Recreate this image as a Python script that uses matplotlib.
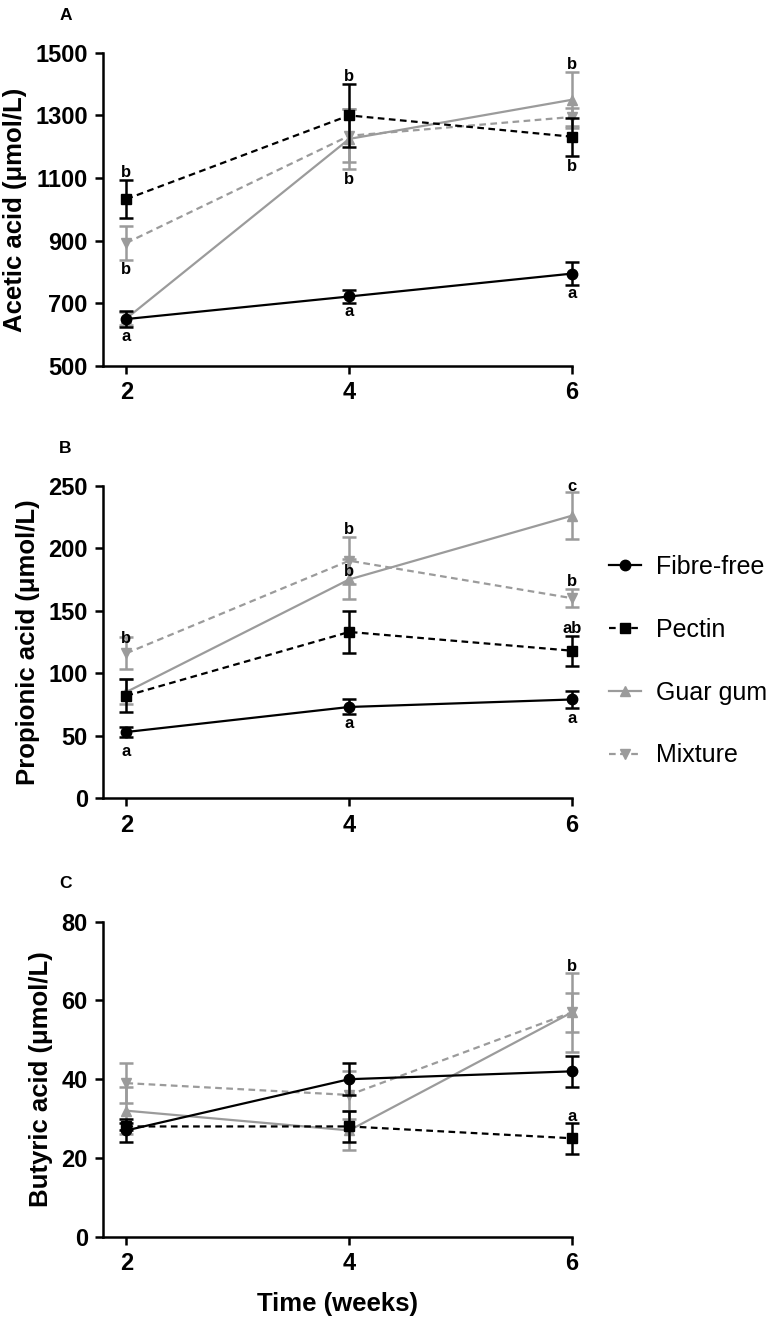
import numpy as np
import matplotlib
matplotlib.use('Agg')
import matplotlib.pyplot as plt
from matplotlib.lines import Line2D

plt.rcParams['font.family'] = ['Liberation Sans', 'DejaVu Sans']

weeks = [2, 4, 6]
groups = ['Fibre-free', 'Pectin', 'Guar gum', 'Mixture']

# acetic acid (umol/L), mean and sem
acetic_mean = {'Fibre-free': [650, 722, 795], 'Pectin': [1033, 1300, 1232],
               'Guar gum': [652, 1225, 1350], 'Mixture': [893, 1235, 1295]}
acetic_err = {'Fibre-free': [25, 20, 37], 'Pectin': [60, 100, 60],
              'Guar gum': [20, 95, 90], 'Mixture': [55, 85, 30]}

# propionic acid
prop_mean = {'Fibre-free': [53, 73, 79], 'Pectin': [82, 133, 118],
             'Guar gum': [85, 175, 226], 'Mixture': [116, 190, 160]}
prop_err = {'Fibre-free': [4, 6, 7], 'Pectin': [13, 17, 12],
            'Guar gum': [10, 16, 19], 'Mixture': [13, 19, 7]}

# butyric acid
but_mean = {'Fibre-free': [27, 40, 42], 'Pectin': [28, 28, 25],
            'Guar gum': [32, 27, 57], 'Mixture': [39, 36, 57]}
but_err = {'Fibre-free': [3, 4, 4], 'Pectin': [1, 4, 4],
           'Guar gum': [6, 5, 10], 'Mixture': [5, 6, 5]}

# significance letters: (week, y position, text)
letters_a = [(2, 1117, 'b'), (2, 807, 'b'), (2, 593, 'a'),
             (4, 1423, 'b'), (4, 1097, 'b'), (4, 673, 'a'),
             (6, 1462, 'b'), (6, 1136, 'b'), (6, 733, 'a')]
letters_b = [(2, 128, 'b'), (2, 37, 'a'),
             (4, 215, 'b'), (4, 181, 'b'), (4, 60, 'a'),
             (6, 249, 'c'), (6, 173, 'b'), (6, 136, 'ab'), (6, 64, 'a')]
letters_c = [(6, 68.6, 'b'), (6, 30.5, 'a')]

gray = '#9b9b9b'
style = {'Fibre-free': dict(color='black', ls='-', marker='o', ms=7.5),
         'Pectin': dict(color='black', ls=(0, (3, 2)), marker='s', ms=7),
         'Guar gum': dict(color=gray, ls='-', marker='^', ms=7),
         'Mixture': dict(color=gray, ls=(0, (3, 2)), marker='v', ms=7)}
order = ['Guar gum', 'Mixture', 'Pectin', 'Fibre-free']

fig = plt.figure(figsize=(7.77, 13.19), dpi=100)
ax1 = fig.add_axes([0.1326, 0.7225, 0.6036, 0.2375])
ax2 = fig.add_axes([0.1326, 0.3948, 0.6036, 0.2370])
ax3 = fig.add_axes([0.1326, 0.0624, 0.6036, 0.2388])


def panel(ax, means, errs, letters, ylim, yticks, ylabel, tag):
    for i, g in enumerate(order):
        s = style[g]
        z = 2 + i
        ax.errorbar(weeks, means[g], yerr=errs[g], fmt='none', ecolor=s['color'],
                    elinewidth=1.8, capsize=5, capthick=1.8, zorder=z, clip_on=False)
        ax.plot(weeks, means[g], color=s['color'], ls=s['ls'], lw=1.6,
                marker=s['marker'], ms=s['ms'], zorder=z + 0.5, clip_on=False)
    for x, y, t in letters:
        ax.text(x, y, t, ha='center', va='center', fontsize=12,
                fontweight='bold', zorder=10)
    ax.set_xlim(1.79, 6)
    ax.set_ylim(*ylim)
    ax.set_xticks(weeks)
    ax.set_yticks(yticks)
    ax.spines['top'].set_visible(False)
    ax.spines['right'].set_visible(False)
    ax.spines['left'].set_linewidth(1.8)
    ax.spines['bottom'].set_linewidth(1.8)
    ax.tick_params(width=1.8, length=6, labelsize=17, pad=5)
    for lab in ax.get_xticklabels() + ax.get_yticklabels():
        lab.set_fontweight('bold')
    ax.set_ylabel(ylabel, fontsize=18.5, fontweight='bold', labelpad=6)
    ax.text(-0.08, 1.12, tag, transform=ax.transAxes, fontsize=12.5,
            fontweight='bold', ha='center', va='center')


panel(ax1, acetic_mean, acetic_err, letters_a, (500, 1500),
      [500, 700, 900, 1100, 1300, 1500], 'Acetic acid (\u03bcmol/L)', 'A')
panel(ax2, prop_mean, prop_err, letters_b, (0, 250),
      [0, 50, 100, 150, 200, 250], 'Propionic acid (\u03bcmol/L)', 'B')
panel(ax3, but_mean, but_err, letters_c, (0, 80),
      [0, 20, 40, 60, 80], 'Butyric acid (\u03bcmol/L)', 'C')
ax3.set_xlabel('Time (weeks)', fontsize=18.5, fontweight='bold', labelpad=12)

handles = [Line2D([], [], color=style[g]['color'], ls=style[g]['ls'], lw=1.6,
                  marker=style[g]['marker'], ms=style[g]['ms']) for g in groups]
ax2.legend(handles, groups, loc='upper left', bbox_to_anchor=(1.03, 0.85),
           frameon=False, fontsize=18, labelspacing=1.55, handlelength=1.3,
           handletextpad=0.6)

plt.savefig('out.png', dpi=100)
